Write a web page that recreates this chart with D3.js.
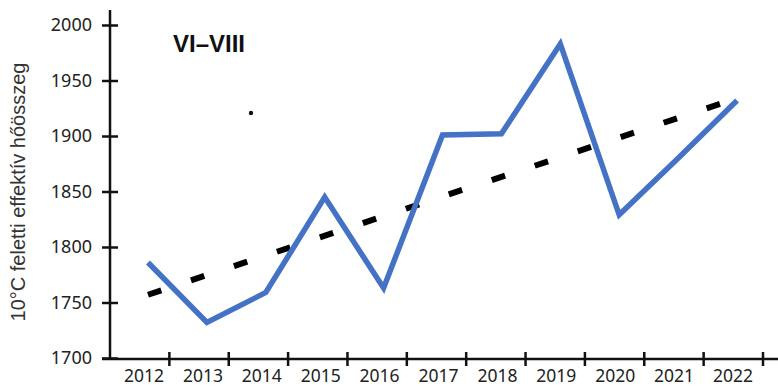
<!DOCTYPE html>
<html>
<head>
<meta charset="utf-8">
<script src="https://cdn.jsdelivr.net/npm/d3@7"></script>
<style>
  body { margin: 0; background: #fff; }
  svg { display: block; }
</style>
</head>
<body>
<div id="chart"></div>
<script>
// data
var years = [2012, 2013, 2014, 2015, 2016, 2017, 2018, 2019, 2020, 2021, 2022];
var heatSum = [1786, 1732, 1759, 1845, 1763, 1901, 1902, 1983, 1829, 1880, 1932];
var trendYears = [2012, 2022];
var trendValues = [1757, 1934];
var yTicks = [1700, 1750, 1800, 1850, 1900, 1950, 2000];
var yTitle = "10°C feletti effektív hőösszeg";
var panelTitle = "VI–VIII";

var width = 778;
var height = 387;

var svg = d3.select("#chart")
      .append("svg")
      .attr("width", width)
      .attr("height", height);

var y = d3.scaleLinear().domain([1700, 2000]).range([358, 25]);
// axis ticks sit on the band edges, points a bit left of centre
var xBand = d3.scaleBand().domain(years).range([110, 763]).paddingInner(0);
var xPt = d3.scalePoint().domain(years).range([148, 737]);

// y axis
var yAxis = svg.append("g")
      .attr("transform", "translate(110,0)")
      .call(d3.axisLeft(y).tickValues(yTicks).tickFormat(d3.format("d"))
        .tickSize(8).tickPadding(10));
yAxis.select(".domain").remove();
yAxis.selectAll(".tick line")
      .attr("x1", -8).attr("x2", 8)
      .attr("stroke", "#111").attr("stroke-width", 2.5);
yAxis.selectAll(".tick text")
      .attr("fill", "#222")
      .style("font-family", "'Noto Sans', sans-serif")
      .style("font-size", "18px");
svg.append("line")
      .attr("x1", 110).attr("x2", 110)
      .attr("y1", 10).attr("y2", y(1700))
      .attr("stroke", "#111").attr("stroke-width", 2.5);

// x axis
svg.append("line")
      .attr("x1", 102).attr("x2", width)
      .attr("y1", 359).attr("y2", 359)
      .attr("stroke", "#111").attr("stroke-width", 2.5);
svg.selectAll(".xtick")
      .data(years)
      .enter()
      .append("line")
      .attr("class", "xtick")
      .attr("x1", function(d) { return xBand(d) + xBand.bandwidth(); })
      .attr("x2", function(d) { return xBand(d) + xBand.bandwidth(); })
      .attr("y1", 352).attr("y2", 366)
      .attr("stroke", "#111").attr("stroke-width", 2.5);
svg.selectAll(".xlabel")
      .data(years)
      .enter()
      .append("text")
      .attr("class", "xlabel")
      .attr("x", function(d) { return xPt(d) - 4; })
      .attr("y", 382)
      .attr("text-anchor", "middle")
      .attr("fill", "#222")
      .style("font-family", "'Noto Sans', sans-serif")
      .style("font-size", "17.5px")
      .text(function(d) { return d; });

// y title
svg.append("text")
      .attr("transform", "translate(25," + 192 + ") rotate(-90)")
      .attr("text-anchor", "middle")
      .attr("fill", "#333")
      .style("font-family", "'Liberation Sans', Arial, sans-serif")
      .style("font-size", "20px")
      .text(yTitle);

// trend line
var trend = trendYears.map(function(d, i) { return [d, trendValues[i]]; });
svg.append("path")
      .datum(trend)
      .attr("d", d3.line()
        .x(function(d) { return xPt(d[0]); })
        .y(function(d) { return y(d[1]); }))
      .attr("fill", "none")
      .attr("stroke", "#000")
      .attr("stroke-width", 6)
      .attr("stroke-dasharray", "14,31.3");

// data line
svg.append("path")
      .datum(years.map(function(d, i) { return [d, heatSum[i]]; }))
      .attr("d", d3.line()
        .x(function(d) { return xPt(d[0]); })
        .y(function(d) { return y(d[1]); }))
      .attr("fill", "none")
      .attr("stroke", "#4472c4")
      .attr("stroke-width", 5.5)
      .attr("stroke-linejoin", "miter");

// panel title and the stray dot
svg.append("text")
      .attr("x", 173).attr("y", 52)
      .attr("fill", "#111")
      .style("font-family", "'Liberation Sans', Arial, sans-serif")
      .style("font-size", "24px")
      .style("font-weight", "bold")
      .text(panelTitle);
svg.append("circle")
      .attr("cx", 251).attr("cy", 113).attr("r", 2.2)
      .attr("fill", "#111");
</script>
</body>
</html>
